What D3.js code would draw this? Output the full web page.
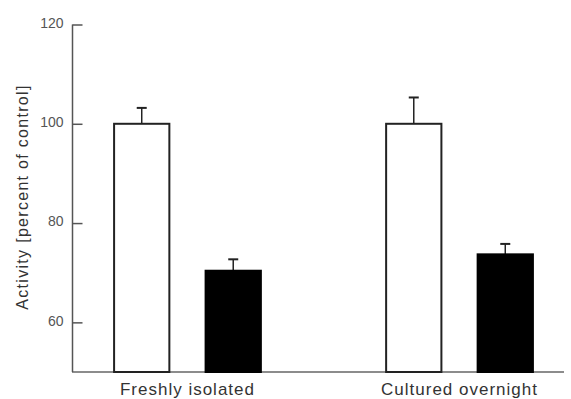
<!DOCTYPE html>
<html lang="en">
<head>
    <meta charset="UTF-8">
    <title>Activity bar chart</title>
    <style>
        body { margin: 0; background: white; }
        svg { display: block; font-family: "Liberation Sans", Arial, sans-serif; }
    </style>
</head>
<body>
    <svg width="571" height="399" id="chart"></svg>

    <script src="https://d3js.org/d3.v7.min.js"></script>
    <script>
        // data
        const groups = ["Freshly isolated", "Cultured overnight"];
        const conditions = ["control", "treated"];
        const means = [[100, 70.4], [100, 73.7]];
        const errors = [[3.2, 2.3], [5.3, 2.1]];
        const yTicks = [60, 80, 100, 120];

        const svg = d3.select("#chart");

        // scales
        const x0 = d3.scaleBand().domain(groups).range([72, 575])
            .paddingInner(0.151).paddingOuter(0);
        const x1 = d3.scaleBand().domain(conditions).range([0, x0.bandwidth()])
            .paddingInner(0.396).paddingOuter(0.46);
        const y = d3.scaleLinear().domain([50, 120]).range([372, 24.5]);

        // bottom line
        svg.append("line")
            .attr("x1", 72).attr("x2", 564)
            .attr("y1", y(50)).attr("y2", y(50))
            .attr("stroke", "#666").attr("stroke-width", 1.5);

        // y axis, ticks pointing inward
        const yAxis = svg.append("g")
            .attr("transform", "translate(72.5,0)")
            .call(d3.axisLeft(y).tickValues(yTicks).tickSizeInner(-10).tickSizeOuter(0).tickPadding(9));
        yAxis.select(".domain").attr("stroke", "#555").attr("stroke-width", 1.5)
            .attr("d", "M0," + y(120) + "V" + y(50));
        yAxis.selectAll(".tick line").attr("stroke", "#555").attr("stroke-width", 1.5);
        yAxis.selectAll(".tick text")
            .attr("font-size", 14).attr("fill", "#555")
            .attr("dy", "0.2em")
            .attr("font-family", "Liberation Sans, Arial, sans-serif");

        // bars
        const rows = [];
        groups.forEach((g, i) => {
            conditions.forEach((c, j) => {
                rows.push({ group: g, cond: c, mean: means[i][j], err: errors[i][j] });
            });
        });

        const bar = svg.selectAll("g.bar")
            .data(rows)
            .enter()
            .append("g")
            .attr("class", "bar")
            .attr("transform", d => "translate(" + (x0(d.group) + x1(d.cond)) + ",0)");

        // error bars (drawn first so the bar outline covers their foot)
        bar.append("line")
            .attr("x1", x1.bandwidth() / 2).attr("x2", x1.bandwidth() / 2)
            .attr("y1", d => y(d.mean)).attr("y2", d => y(d.mean + d.err))
            .attr("stroke", "#222").attr("stroke-width", 1.5);
        bar.append("line")
            .attr("x1", x1.bandwidth() / 2 - 5).attr("x2", x1.bandwidth() / 2 + 5)
            .attr("y1", d => y(d.mean + d.err)).attr("y2", d => y(d.mean + d.err))
            .attr("stroke", "#222").attr("stroke-width", 2);

        bar.append("rect")
            .attr("x", 0)
            .attr("width", x1.bandwidth())
            .attr("y", d => y(d.mean))
            .attr("height", d => y(50) - y(d.mean))
            .attr("fill", d => d.cond === "control" ? "white" : "black")
            .attr("stroke", d => d.cond === "control" ? "#222" : "black")
            .attr("stroke-width", 2);

        // category labels
        svg.selectAll("text.cat")
            .data(groups)
            .enter()
            .append("text")
            .attr("class", "cat")
            .attr("x", d => x0(d) + x0.bandwidth() / 2)
            .attr("y", 395)
            .attr("text-anchor", "middle")
            .attr("font-size", 17)
            .attr("letter-spacing", 1)
            .attr("fill", "#333")
            .text(d => d);

        // y label
        svg.append("text")
            .attr("transform", "translate(28,197) rotate(-90)")
            .attr("text-anchor", "middle")
            .attr("font-size", 16)
            .attr("letter-spacing", 1.3)
            .attr("fill", "#333")
            .text("Activity [percent of control]");
    </script>
</body>
</html>
